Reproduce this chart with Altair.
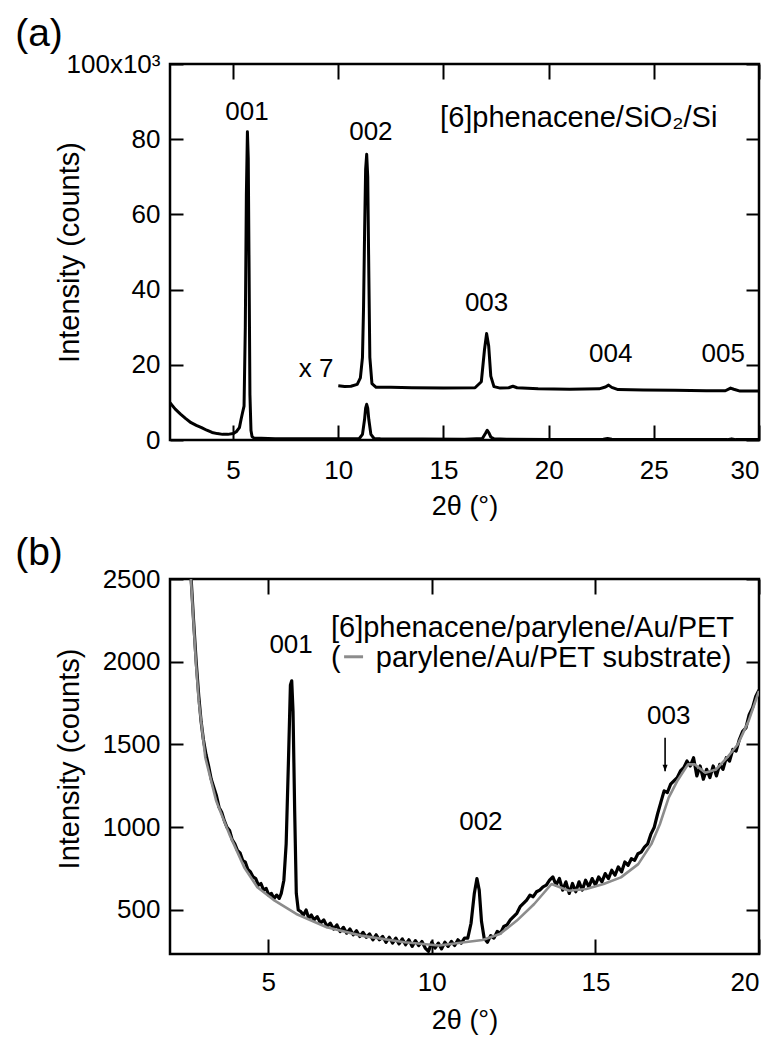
import altair as alt
import pandas as pd

FONT = "Liberation Sans"

# ---------------- panel (a) data ----------------
a1_x = [2.0, 2.25, 2.5, 2.75, 3.0, 3.25, 3.5, 3.75, 4.0, 4.25, 4.5, 4.75, 5.0, 5.15, 5.3, 5.38, 5.45,
        5.52, 5.58, 5.63, 5.68, 5.72, 5.76, 5.8, 5.85, 5.9, 6.0, 7.0, 8.0, 9.0, 10.0, 11.0, 11.15, 11.25,
        11.3, 11.35, 11.4, 11.45, 11.55, 11.7, 12.0, 14.0, 16.0, 16.85, 17.0, 17.08, 17.15, 17.25, 17.4,
        18.0, 20.0, 22.6, 22.8, 23.0, 25.0, 28.5, 28.7, 28.9, 30.0]
a1_y = [9.9, 8.2, 6.9, 5.7, 4.6, 3.9, 3.3, 2.6, 2.0, 1.7, 1.5, 1.5, 1.7, 2.2, 3.3, 5.5, 7.3,
        9.0, 30.0, 65.0, 82.0, 75.0, 45.0, 12.0, 2.5, 0.9, 0.5, 0.35, 0.3, 0.3, 0.3, 0.4, 1.5, 5.5,
        8.5, 9.5, 8.5, 5.5, 1.5, 0.4, 0.3, 0.25, 0.2, 0.4, 1.8, 2.6, 2.0, 0.8, 0.3,
        0.2, 0.15, 0.2, 0.4, 0.2, 0.1, 0.1, 0.3, 0.1, 0.1]

a7_x = [10.0, 10.3, 10.6, 10.9, 11.05, 11.15, 11.2, 11.25, 11.3, 11.35, 11.4, 11.45, 11.5, 11.6,
        11.8, 12.5, 13.5, 15.0, 16.5, 16.8, 16.95, 17.05, 17.15, 17.25, 17.4, 17.7, 18.1, 18.3, 18.5,
        19.5, 21.0, 22.4, 22.7, 22.85, 23.0, 23.3, 24.5, 26.0, 27.5, 28.4, 28.65, 28.8, 29.1, 30.0]
a7_y = [14.4, 14.2, 14.3, 14.8, 16.5, 22.0, 35.0, 55.0, 72.0, 76.0, 70.0, 45.0, 22.0, 15.0,
        14.0, 14.0, 13.9, 13.8, 13.9, 15.5, 24.0, 28.3, 25.0, 17.0, 14.2, 13.8, 13.9, 14.3, 13.9,
        13.6, 13.5, 13.6, 14.1, 14.6, 14.0, 13.4, 13.3, 13.2, 13.1, 13.1, 13.8, 13.5, 13.0, 13.0]

a_lab_text = ["001", "002", "003", "004", "005", "x 7"]
a_lab_x = [5.66, 11.55, 17.05, 22.95, 28.3, 8.95]
a_lab_y = [87.3, 82.0, 36.4, 22.8, 22.8, 18.8]
a_big_text = ["[6]phenacene/SiO\u2082/Si"]
a_big_x = [21.43]
a_big_y = [85.6]
a_xticks = [5, 10, 15, 20, 25, 30]
a_yticks = [0, 20, 40, 60, 80, 100]

# ---------------- panel (b) data ----------------
b_gray_x = [2.45, 2.64, 2.79, 2.88, 3.08, 3.41, 3.81, 4.27, 4.67, 5.2, 5.86, 6.79, 7.84, 9.17, 10.22,
            11.0, 11.55, 12.08, 12.6, 13.13, 13.66, 14.19, 14.72, 15.25, 15.78, 16.31, 16.71, 16.97,
            17.24, 17.5, 17.83, 18.03, 18.36, 18.69, 19.02, 19.35, 19.68, 20.0]
b_gray_y = [3000, 2500, 2000, 1760, 1420, 1160, 960, 757, 637, 556, 476, 396, 345, 305, 285,
            305, 319, 355, 436, 536, 657, 616, 627, 657, 697, 777, 898, 1018,
            1179, 1279, 1380, 1380, 1329, 1349, 1420, 1500, 1641, 1823]

b_black_x = [2.40, 2.55, 2.64, 2.72, 2.80, 2.88, 2.95, 3.02, 3.10, 3.18, 3.26, 3.34, 3.42, 3.50, 3.58,
             3.66, 3.74, 3.82, 3.90, 3.98, 4.06, 4.14, 4.22, 4.30, 4.38, 4.46, 4.54, 4.62, 4.70, 4.78,
             4.86, 4.94, 5.02, 5.10, 5.18, 5.26, 5.34, 5.40, 5.48, 5.55, 5.62, 5.68, 5.72, 5.76, 5.81,
             5.86, 5.92, 6.00, 6.08, 6.16, 6.24, 6.32, 6.40, 6.50, 6.60, 6.70, 6.80, 6.90, 7.00, 7.10,
             7.20, 7.30, 7.40, 7.50, 7.60, 7.70, 7.80, 7.90, 8.00, 8.10, 8.20, 8.30, 8.40, 8.50, 8.60,
             8.70, 8.80, 8.90, 9.00, 9.10, 9.20, 9.30, 9.40, 9.50, 9.60, 9.70, 9.80, 9.90, 10.00,
             10.10, 10.20, 10.30, 10.40, 10.50, 10.60, 10.70, 10.80, 10.90, 11.00, 11.10, 11.20,
             11.30, 11.38, 11.45, 11.52, 11.60, 11.70, 11.80, 11.90, 12.00, 12.10, 12.20, 12.30,
             12.40, 12.50, 12.60, 12.70, 12.80, 12.90, 13.00, 13.10, 13.20, 13.30, 13.40, 13.50,
             13.60, 13.70, 13.80, 13.90, 14.00, 14.10, 14.20, 14.30, 14.40, 14.50, 14.60, 14.70,
             14.80, 14.90, 15.00, 15.10, 15.20, 15.30, 15.40, 15.50, 15.60, 15.70, 15.80, 15.90,
             16.00, 16.10, 16.20, 16.30, 16.40, 16.50, 16.60, 16.70, 16.80, 16.90, 17.00, 17.10,
             17.20, 17.30, 17.40, 17.50, 17.60, 17.70, 17.80, 17.90, 18.00, 18.10, 18.20, 18.30,
             18.40, 18.50, 18.60, 18.70, 18.80, 18.90, 19.00, 19.10, 19.20, 19.30, 19.40, 19.50,
             19.60, 19.70, 19.80, 19.90, 20.00]
b_black_y = [3100, 2750, 2520, 2250, 2000, 1790, 1640, 1530, 1440, 1370, 1290, 1240, 1190, 1120, 1090,
             1040, 1000, 980, 925, 900, 860, 845, 800, 790, 745, 730, 700, 690, 650, 660,
             620, 630, 590, 600, 570, 590, 570, 600, 680, 900, 1400, 1860, 1885, 1700, 1100,
             600, 500, 490, 470, 500, 450, 470, 440, 460, 420, 440, 400, 420, 385, 410,
             370, 395, 360, 385, 350, 375, 340, 365, 335, 355, 320, 350, 320, 340, 305,
             335, 300, 330, 295, 325, 290, 320, 280, 315, 285, 310, 270, 250, 305,
             270, 300, 265, 305, 280, 310, 285, 320, 300, 330, 330, 420,
             600, 690, 620, 430, 330, 305, 345, 330, 370, 360, 400, 410,
             440, 460, 480, 520, 540, 560, 590, 580, 610, 620, 640, 650,
             680, 700, 650, 690, 620, 670, 600, 660, 610, 670, 620, 680,
             640, 690, 650, 700, 670, 720, 690, 740, 710, 760, 730, 790,
             770, 810, 800, 840, 850, 880, 900, 960, 1000, 1080, 1150, 1220,
             1210, 1260, 1280, 1300, 1340, 1360, 1400, 1370, 1420, 1310, 1370, 1290,
             1350, 1300, 1370, 1310, 1380, 1350, 1420, 1400, 1470, 1460, 1530, 1580,
             1600, 1680, 1720, 1790, 1830]

b_lab_text = ["001", "002", "003"]
b_lab_x = [5.70, 11.5, 17.24]
b_lab_y = [2101, 1034, 1671]
b_leg_text = ["[6]phenacene/parylene/Au/PET", "(", "parylene/Au/PET substrate)"]
b_leg_x = [6.92, 6.92, 8.29]
b_leg_y = [2206, 2024, 2024]
b_leg_line_x = [7.32]
b_leg_line_x2 = [7.90]
b_leg_line_y = [2030]
b_arrow_x = [17.13]
b_arrow_top = [1540]
b_arrow_tip = [1339]
b_xticks = [5, 10, 15, 20]
b_yticks = [500, 1000, 1500, 2000, 2500]

panel_labels = ["(a)", "(b)"]

W = 589
HA = 376
HB = 375
XT = 15   # x tick length (inward)
YT = 13   # y tick length (inward)
TW = 2.0  # tick width
TC = "black"

AX_COMMON = dict(grid=False, domain=False, ticks=True, tickColor=TC, tickWidth=TW,
                 tickOpacity=1, labelFont=FONT, labelFontSize=26, labelColor="black",
                 titleFont=FONT, titleColor="black", titleFontWeight="normal", format="d")


def make_panel(xdom, ydom, xticks, yticks, H, label_expr, xlabpad, layers_fn, panel_label,
               label_y, mirror_df, ytitle_shift):
    xs = alt.Scale(domain=xdom, nice=False, zero=False)
    ys = alt.Scale(domain=ydom, nice=False, zero=False)
    X = alt.X("x:Q", scale=xs, title="2\u03b8 (\u00b0)",
              axis=alt.Axis(values=xticks, offset=-XT, tickSize=XT, labelPadding=xlabpad,
                            titleY=74 + XT, titleBaseline="alphabetic", titleFontSize=27,
                            **AX_COMMON))
    yaxis_kwargs = dict(values=yticks, offset=-YT, tickSize=YT, labelPadding=10,
                        titleX=-101 - YT, titleY=H / 2 + ytitle_shift, titleAngle=270,
                        titleBaseline="middle", titleAlign="center", titleFontSize=29,
                        **AX_COMMON)
    if label_expr:
        yaxis_kwargs["labelExpr"] = label_expr
    Y = alt.Y("y:Q", scale=ys, title="Intensity (counts)", axis=alt.Axis(**yaxis_kwargs))

    XTOP = alt.X("x:Q", scale=xs, title=None,
                 axis=alt.Axis(orient="top", values=xticks, offset=-XT, tickSize=XT,
                               labels=False, grid=False, domain=False, ticks=True,
                               tickColor=TC, tickWidth=TW, tickOpacity=1))
    YRIGHT = alt.Y("y:Q", scale=ys, title=None,
                   axis=alt.Axis(orient="right", values=yticks, offset=-YT, tickSize=YT,
                                 labels=False, grid=False, domain=False, ticks=True,
                                 tickColor=TC, tickWidth=TW, tickOpacity=1))

    mirror = alt.Chart(mirror_df).mark_point(opacity=0).encode(x=XTOP, y=YRIGHT)

    plabel = alt.Chart(pd.DataFrame({"t": [panel_label]})).mark_text(
        font=FONT, fontSize=39, align="center", baseline="middle", color="black"
    ).encode(text="t:N", x=alt.value(-131), y=alt.value(label_y))

    main = alt.layer(*(layers_fn(X, Y) + [plabel]))
    return alt.layer(main, mirror).resolve_axis(x="independent", y="independent").properties(
        width=W, height=H)


def layers_a(X, Y):
    d1 = pd.DataFrame({"x": a1_x, "y": a1_y})
    d7 = pd.DataFrame({"x": a7_x, "y": a7_y})
    l1 = alt.Chart(d1).mark_line(color="black", strokeWidth=3, strokeJoin="round").encode(x=X, y=Y)
    l7 = alt.Chart(d7).mark_line(color="black", strokeWidth=3, strokeJoin="round").encode(x=X, y=Y)
    dl = pd.DataFrame({"x": a_lab_x, "y": a_lab_y, "t": a_lab_text})
    tl = alt.Chart(dl).mark_text(font=FONT, fontSize=26, align="center", baseline="middle",
                                 color="black").encode(x=X, y=Y, text="t:N")
    db = pd.DataFrame({"x": a_big_x, "y": a_big_y, "t": a_big_text})
    tb = alt.Chart(db).mark_text(font=FONT, fontSize=29, align="center", baseline="middle",
                                 color="black").encode(x=X, y=Y, text="t:N")
    return [l1, l7, tl, tb]


def layers_b(X, Y):
    dk = pd.DataFrame({"x": b_black_x, "y": b_black_y})
    dg = pd.DataFrame({"x": b_gray_x, "y": b_gray_y})
    lk = alt.Chart(dk).mark_line(color="black", strokeWidth=3.2, strokeJoin="round",
                                 clip=True).encode(x=X, y=Y)
    lg = alt.Chart(dg).mark_line(color="#8c8c8c", strokeWidth=2.6, strokeJoin="round",
                                 clip=True).encode(x=X, y=Y)
    dl = pd.DataFrame({"x": b_lab_x, "y": b_lab_y, "t": b_lab_text})
    tl = alt.Chart(dl).mark_text(font=FONT, fontSize=26, align="center", baseline="middle",
                                 color="black").encode(x=X, y=Y, text="t:N")
    dleg = pd.DataFrame({"x": b_leg_x, "y": b_leg_y, "t": b_leg_text})
    tleg = alt.Chart(dleg).mark_text(font=FONT, fontSize=29, align="left", baseline="middle",
                                     color="black").encode(x=X, y=Y, text="t:N")
    dline = pd.DataFrame({"x": b_leg_line_x, "x2": b_leg_line_x2, "y": b_leg_line_y})
    lline = alt.Chart(dline).mark_rule(color="#8c8c8c", strokeWidth=3).encode(
        x=X, x2="x2:Q", y=Y)
    darr = pd.DataFrame({"x": b_arrow_x, "y": b_arrow_top, "y2": b_arrow_tip})
    arr = alt.Chart(darr).mark_rule(color="black", strokeWidth=1.6).encode(x=X, y=Y, y2="y2:Q")
    dtip = pd.DataFrame({"x": b_arrow_x, "y": b_arrow_tip})
    tip = alt.Chart(dtip).mark_point(shape="M -0.4 -1 L 0.4 -1 L 0 0 Z", filled=True,
                                     color="black", size=160, opacity=1).encode(x=X, y=Y)
    return [lk, lg, tl, tleg, lline, arr, tip]


pa = make_panel([2, 30], [0, 100], a_xticks, a_yticks, HA,
                "datum.value == 100 ? '100x10\u00b3' : datum.label", 17, layers_a,
                panel_labels[0], -30.5, pd.DataFrame({"x": a_lab_x, "y": a_lab_y}), 0)
pb = make_panel([2, 20], [234, 2500], b_xticks, b_yticks, HB, None, 15, layers_b,
                panel_labels[1], -26, pd.DataFrame({"x": b_lab_x, "y": b_lab_y}), -8)

chart = alt.vconcat(pa, pb, spacing=11, background="white").configure_view(
    stroke="black", strokeWidth=2.5
)

chart.save("out.html", embed_options={"renderer": "svg", "actions": False})
